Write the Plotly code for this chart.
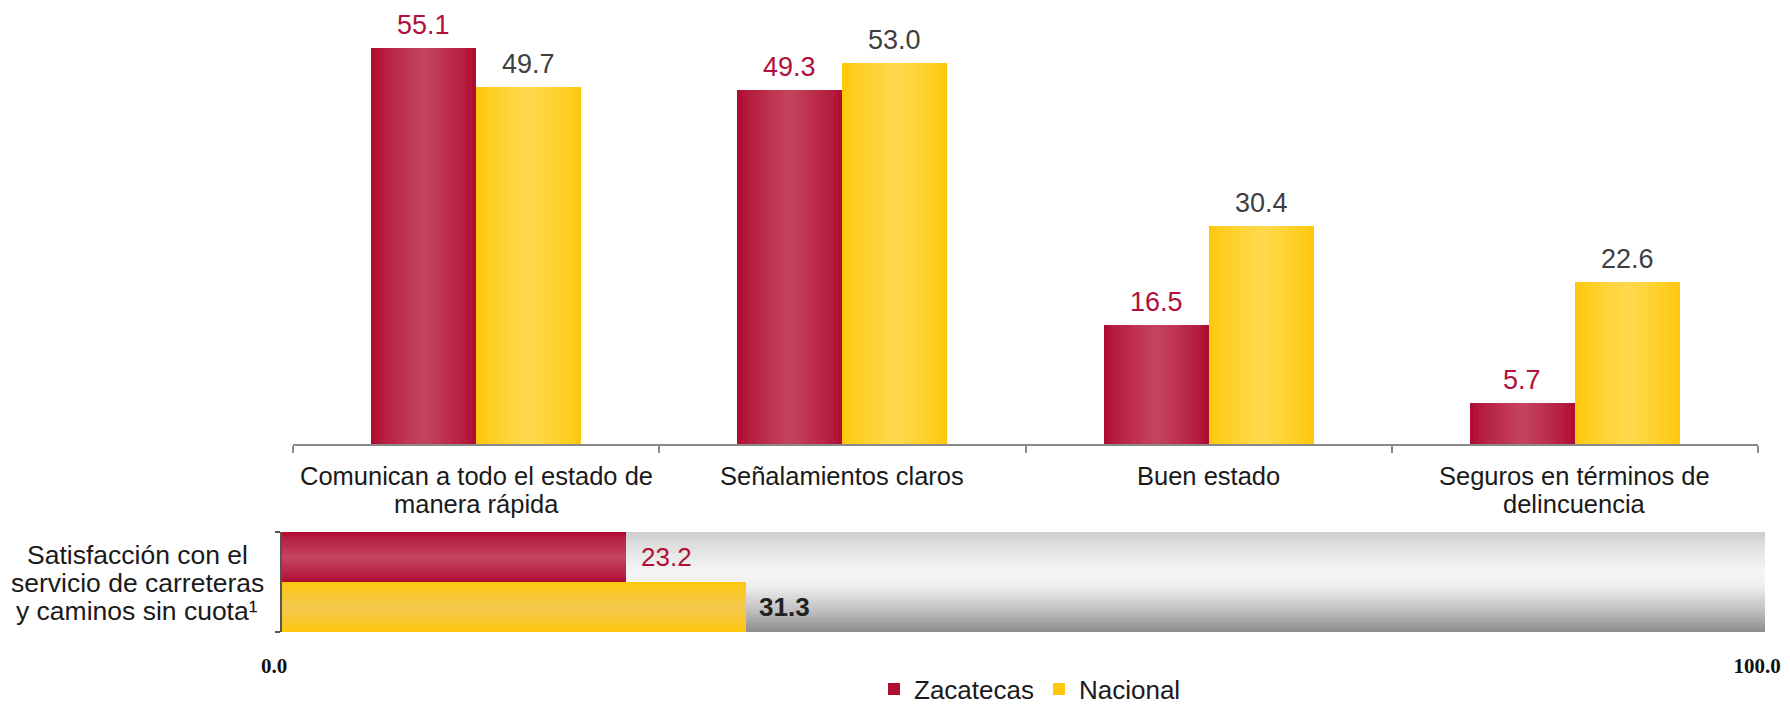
import plotly.graph_objects as go

# ---------------- data ----------------
categorias = ["Comunican a todo el estado de<br>manera rápida",
              "Señalamientos claros",
              "Buen estado",
              "Seguros en términos de<br>delincuencia"]
zacatecas = [55.1, 49.3, 16.5, 5.7]
nacional = [49.7, 53.0, 30.4, 22.6]
series = ["Zacatecas", "Nacional"]
satisfaccion_label = ["Satisfacción con el", "servicio de carreteras", "y caminos sin cuota¹"]
satisfaccion_zac = [23.2]
satisfaccion_nac = [31.3]
escala_max = [100]
escala_ticks = [0, 100]
escala_ticktext = ["0.0", "100.0"]

# ---------------- styles ----------------
OFF = 8                      # default page body margin
W, H = 1790 - OFF, 705 - OFF
RED_EDGE, RED_CENTER = (176, 13, 50), (198, 70, 95)
YEL_EDGE, YEL_CENTER = (255, 200, 12), (255, 218, 80)
RED_TEXT = "#B0103A"
DARK_TEXT = "#3f3f3f"
FONT = "Liberation Sans"


def px(x):
    return (x - OFF) / W


def py(y):
    return 1 - (y - OFF) / H


def mix(a, b, t):
    return "rgb(%d,%d,%d)" % tuple(round(a[i] + (b[i] - a[i]) * t) for i in range(3))


fig = go.Figure()

BW = 105 / 366.0   # bar width in category units
NL = 12            # gradient layers
PX_PER_CAT = 366.0

for name, vals, edge, center, cx, tcol in [
        (series[0], zacatecas, RED_EDGE, RED_CENTER, -BW / 2, RED_TEXT),
        (series[1], nacional, YEL_EDGE, YEL_CENTER, BW / 2, DARK_TEXT)]:
    for i in range(NL):
        w = 1 - i / NL
        t = (1 - w) ** 0.8
        first = i == 0
        fig.add_trace(go.Bar(
            x=categorias, y=vals, name=name,
            width=BW * w, offset=cx - BW * w / 2,
            marker=dict(color=mix(edge, center, t), line=dict(width=0)),
            showlegend=first,
            legendgroup=name,
            hoverinfo="skip" if not first else None,
            xaxis="x", yaxis="y"))
    for c, v in zip(categorias, vals):
        fig.add_annotation(x=c, y=v, xref="x", yref="y", text=f"{v:.1f}",
                           showarrow=False, xshift=cx * PX_PER_CAT, yshift=23,
                           yanchor="middle", xanchor="center",
                           font=dict(family=FONT, size=27, color=tcol))

# category labels (one annotation per line for tighter line spacing)
for c in categorias:
    for j, line in enumerate(c.split("<br>")):
        fig.add_annotation(x=c, y=py(476 + 27.5 * j), xref="x", yref="paper",
                           text=line, showarrow=False, xanchor="center",
                           yanchor="middle",
                           font=dict(family=FONT, size=25.5, color="#1a1a1a"))

# ---- bottom: gray background with vertical gradient ----
NS = 40
gray_stops = [(0.0, 205), (0.12, 222), (0.4, 246), (0.55, 238), (0.8, 190), (1.0, 140)]


def gray_at(p):
    for (p0, g0), (p1, g1) in zip(gray_stops[:-1], gray_stops[1:]):
        if p0 <= p <= p1:
            g = g0 + (g1 - g0) * (p - p0) / (p1 - p0)
            return "rgb(%d,%d,%d)" % (g, g, g)
    return "rgb(140,140,140)"


strip_y = [1.5 - (k + 0.5) * 2.0 / NS for k in range(NS)]
strip_c = [gray_at((k + 0.5) / NS) for k in range(NS)]
fig.add_trace(go.Bar(
    x=escala_max * NS, y=strip_y, orientation="h", width=2.0 / NS * 1.05,
    marker=dict(color=strip_c, line=dict(width=0)),
    showlegend=False, hoverinfo="skip", xaxis="x2", yaxis="y2"))

for vals, ypos, edge, center in [
        (satisfaccion_zac, 1, RED_EDGE, RED_CENTER),
        (satisfaccion_nac, 0, YEL_EDGE, (242, 200, 80))]:
    for i in range(NL):
        w = 1 - i / NL
        t = (1 - w) ** 0.8
        fig.add_trace(go.Bar(
            x=vals, y=[ypos], orientation="h", width=w,
            marker=dict(color=mix(edge, center, t), line=dict(width=0)),
            showlegend=False, hoverinfo="skip", xaxis="x2", yaxis="y2"))

fig.add_annotation(x=satisfaccion_zac[0], y=1, xref="x2", yref="y2",
                   text=f"{satisfaccion_zac[0]:.1f}", showarrow=False,
                   xanchor="left", xshift=13,
                   font=dict(family=FONT, size=26, color=RED_TEXT))
fig.add_annotation(x=satisfaccion_nac[0], y=0, xref="x2", yref="y2",
                   text=f"<b>{satisfaccion_nac[0]:.1f}</b>", showarrow=False,
                   xanchor="left", xshift=11,
                   font=dict(family=FONT, size=26, color="#222222"))
for j, line in enumerate(satisfaccion_label):
    fig.add_annotation(x=px(137), y=py(555 + 28 * j), xref="paper", yref="paper",
                       text=line, showarrow=False,
                       xanchor="center", yanchor="middle",
                       font=dict(family=FONT, size=26.5, color="#1a1a1a"))

fig.update_layout(
    width=W, height=H,
    margin=dict(l=0, r=0, t=0, b=0, autoexpand=False),
    paper_bgcolor="white", plot_bgcolor="white",
    barmode="overlay",
    bargap=0,
    xaxis=dict(domain=[px(293), px(1758)], anchor="y", automargin=False,
               showline=True, linecolor="#8a8a8a", linewidth=1.5,
               ticks="outside", tickson="boundaries", ticklen=7,
               tickcolor="#8a8a8a", tickwidth=1.5, showticklabels=False,
               showgrid=False, zeroline=False, fixedrange=True),
    yaxis=dict(domain=[py(444), py(10)], anchor="x", automargin=False,
               range=[0, 434 / 7.185], visible=False),
    xaxis2=dict(domain=[px(282), px(1765)], anchor="y2", range=[0, 100],
                automargin=False,
                tickvals=escala_ticks, ticktext=escala_ticktext,
                tickfont=dict(family="Liberation Serif", size=21, color="#111111",
                              weight="bold"),
                ticks="outside", ticklen=15, tickcolor="rgba(0,0,0,0)",
                ticklabelshift=-8,
                showline=False, showgrid=False, zeroline=False),
    yaxis2=dict(domain=[py(632), py(532)], anchor="x2", range=[-0.5, 1.5],
                automargin=False,
                showline=True, linecolor="#555555", linewidth=1.5,
                ticks="outside", tickvals=[-0.5, 1.5], ticklen=5,
                tickcolor="#555555", tickwidth=1.5,
                showticklabels=False, showgrid=False, zeroline=False),
    legend=dict(orientation="h", x=px(1030), xanchor="center",
                y=py(689), yanchor="middle",
                font=dict(family=FONT, size=26, color="#1a1a1a"),
                itemwidth=30, tracegroupgap=0),
    showlegend=True,
)

fig.write_html("out.html")
